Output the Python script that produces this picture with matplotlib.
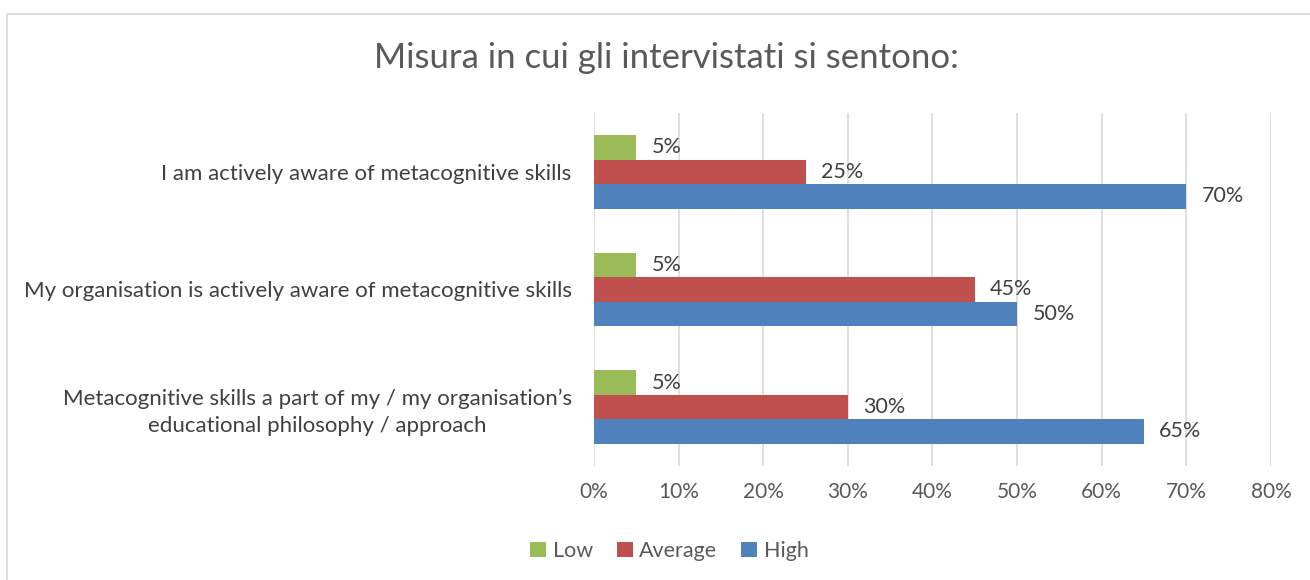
import numpy as np
import matplotlib.pyplot as plt
from matplotlib.patches import Rectangle

plt.rcParams['font.family'] = ['Lato', 'DejaVu Sans']

categories = ["I am actively aware of metacognitive skills",
              "My organisation is actively aware of metacognitive skills",
              "Metacognitive skills a part of my / my organisation\u2019s\neducational philosophy / approach"]
series = ["Low", "Average", "High"]
low = [5, 5, 5]
average = [25, 45, 30]
high = [70, 50, 65]
colors = ["#9BBB59", "#C0504D", "#4F81BD"]
xticks = [0, 10, 20, 30, 40, 50, 60, 70, 80]

fig = plt.figure(figsize=(13.1, 5.8), dpi=100)
ax = fig.add_axes([0.4534, 0.197, 0.9702 - 0.4534, 0.608])

# chart border
fig.patches.append(Rectangle((7 / 1310, -0.05), 1.1, 1 - 14 / 580 + 0.05,
                             transform=fig.transFigure, fill=False,
                             edgecolor="#D9D9D9", linewidth=1.2))

y = np.arange(len(categories))
h = 0.208
for i, (name, vals) in enumerate(zip(series, [low, average, high])):
    pos = y + (i - 1) * h
    ax.barh(pos, vals, height=h, color=colors[i], label=name, zorder=3)
    for p, v in zip(pos, vals):
        ax.text(v + 1.8, p, f"{v}%", va="center", ha="left",
                fontsize=15.5, color="#404040")

ax.set_ylim(2.5, -0.5)
ax.set_xlim(0, 80)
ax.set_xticks(xticks)
ax.set_xticklabels([f"{t}%" for t in xticks], fontsize=15, color="#595959")
ax.set_yticks(y)
ax.set_yticklabels(categories, fontsize=16, color="#404040")
for lab in ax.get_yticklabels():
    lab.set_multialignment("center")
    lab.set_linespacing(1.45)
ax.tick_params(length=0, pad=16, axis="y")
ax.tick_params(length=0, pad=12, axis="x")
ax.grid(axis="x", color="#D9D9D9", linewidth=1.2, zorder=0)
for s in ax.spines.values():
    s.set_visible(False)

fig.text(0.509, 0.9, "Misura in cui gli intervistati si sentono:",
         ha="center", va="center", fontsize=25, color="#595959")

ax.legend(loc="center", bbox_to_anchor=(0.511, 0.05),
          bbox_transform=fig.transFigure, ncol=3, frameon=False,
          fontsize=15.5, handlelength=0.75, handleheight=0.75,
          handletextpad=0.3, columnspacing=1.1, labelcolor="#595959")

fig.savefig("out.png", dpi=100)
